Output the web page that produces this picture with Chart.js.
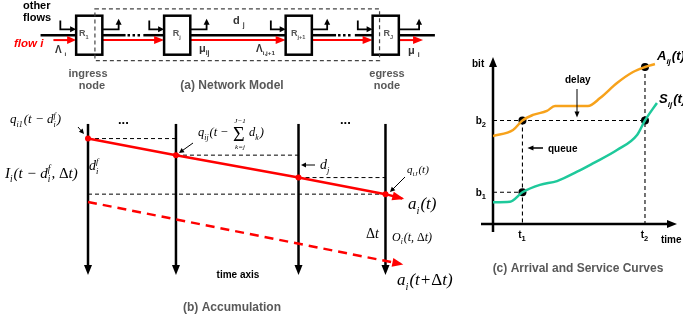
<!DOCTYPE html>
<html><head><meta charset="utf-8">
<script src="https://cdn.jsdelivr.net/npm/chart.js@4/dist/chart.umd.min.js"></script>
<style>
html,body{margin:0;padding:0;background:#fff;}
#wrap{position:relative;width:683px;height:322px;}
canvas{position:absolute;left:0;top:0;}
</style></head><body>
<div id="wrap"><canvas id="diag" width="683" height="322"></canvas><canvas id="curves" width="683" height="322"></canvas></div>
<script>
// ---------------- DATA ----------------
// (a) Network model: routers traversed by flow i
const routerNames = ['1', 'j', 'j+1', 'J'];
// (b) Accumulation: time axes and the a_i(t) trajectory levels at each axis (diagram units)
const timeAxes = [85, 174, 298, 386];
const arrivalLevels = [138, 155, 178, 195];
const arrivalTip = [403, 199.5];
const laterArrival = [[85, 203], [401, 266.5]];
// (c) Arrival and service curves (time, bit)
const arrivalTimes = [0, 1.09, 1.6, 2.17, 2.93, 3.37, 5.16, 5.82, 6.74, 7.61, 8.26, 8.8];
const arrivalBits  = [5.27, 5.63, 6.2, 6.53, 6.77, 7.07, 7.07, 7.54, 8.44, 9.1, 9.4, 9.58];
const serviceTimes = [0, 0.92, 1.6, 2.55, 3.48, 4.57, 5.43, 6.74, 7.83, 8.26, 8.91];
const serviceBits  = [1.3, 1.33, 1.9, 2.34, 2.57, 3.13, 3.63, 4.43, 5.33, 6.2, 7.25];
const t1 = 1.6, t2 = 8.26, b1 = 1.9, b2 = 6.2, arrivalAtT2 = 9.4;

// ---------------- helpers ----------------
const SANS = '"Liberation Sans", Arial, sans-serif';
const SERIF = '"Liberation Serif", "Times New Roman", serif';
function rich(ctx, x, y, segs, o = {}) {
  const size = o.size || 13, fam = o.family || SERIF, it = o.italic !== false, bold = o.bold ? 'bold ' : '';
  const f = (s, ital) => `${ital ? 'italic ' : ''}${bold}${s}px ${fam}`;
  const ss = size * (o.subScale || 0.62);
  const parts = segs.map(s => typeof s === 'string' ? { t: s } : s);
  let w = 0; const ws = [];
  for (const p of parts) {
    let pw;
    if (p.t !== undefined) { ctx.font = f(size, p.up ? false : it); pw = ctx.measureText(p.t).width; }
    else { ctx.font = f(ss, it); pw = Math.max(p.sub ? ctx.measureText(p.sub).width : 0, p.sup ? ctx.measureText(p.sup).width : 0) + 1; }
    ws.push(pw); w += pw;
  }
  let cx = o.align === 'center' ? x - w / 2 : o.align === 'right' ? x - w : x;
  ctx.save(); ctx.fillStyle = o.color || '#000'; ctx.textBaseline = 'alphabetic'; ctx.textAlign = 'left';
  parts.forEach((p, i) => {
    if (p.t !== undefined) { ctx.font = f(size, p.up ? false : it); ctx.fillText(p.t, cx, y); }
    else {
      ctx.font = f(ss, it);
      if (p.sub) ctx.fillText(p.sub, cx, y + size * 0.28);
      if (p.sup) ctx.fillText(p.sup, cx, y - size * 0.42);
    }
    cx += ws[i];
  });
  ctx.restore();
  return w;
}
function txt(ctx, s, x, y, font, color, align) {
  ctx.save(); ctx.font = font; ctx.fillStyle = color || '#000'; ctx.textAlign = align || 'left'; ctx.textBaseline = 'alphabetic';
  ctx.fillText(s, x, y); ctx.restore();
}
function head(ctx, x1, y1, x2, y2, len, w, color) {
  const a = Math.atan2(y2 - y1, x2 - x1), c = Math.cos(a), s = Math.sin(a);
  ctx.save(); ctx.fillStyle = color; ctx.beginPath();
  ctx.moveTo(x2, y2);
  ctx.lineTo(x2 - len * c + w / 2 * s, y2 - len * s - w / 2 * c);
  ctx.lineTo(x2 - len * c - w / 2 * s, y2 - len * s + w / 2 * c);
  ctx.closePath(); ctx.fill(); ctx.restore();
}
function poly(ctx, pts, lw, color, dash) {
  ctx.save(); ctx.lineWidth = lw; ctx.strokeStyle = color; ctx.setLineDash(dash || []);
  ctx.beginPath(); ctx.moveTo(pts[0][0], pts[0][1]);
  for (let i = 1; i < pts.length; i++) ctx.lineTo(pts[i][0], pts[i][1]);
  ctx.stroke(); ctx.restore();
}
function arrow(ctx, pts, lw, color, len, w) {
  const n = pts.length, [x1, y1] = pts[n - 2], [x2, y2] = pts[n - 1];
  const d = Math.hypot(x2 - x1, y2 - y1), k = (d - len * 0.8) / d;
  const p = pts.slice(0, n - 1).concat([[x1 + (x2 - x1) * k, y1 + (y2 - y1) * k]]);
  poly(ctx, p, lw, color);
  head(ctx, x1, y1, x2, y2, len, w, color);
}

// ---------------- Chart 1: panels (a) and (b) ----------------
const boxL = [73, 162, 285, 373];
const labelShift = [-5, 0, 0, 3];
const diagPlugin = {
  id: 'diag',
  beforeDatasetsDraw(chart) {
    const ctx = chart.ctx, sx = chart.scales.x, sy = chart.scales.y;
    const P = (x, y) => [sx.getPixelForValue(x), sy.getPixelForValue(y)];
    const BK = '#000', RED = '#ff0000';
    // ----- panel (a) -----
    poly(ctx, [P(37, 32), P(73, 32)], 2.5, BK);
    arrow(ctx, [P(50, 37), P(73, 37)], 2, RED, 9, 8);
    const gaps = [[99, 162, 123, 139], [188, 285, null], [312, 373, 336, 353], [400, 436, null]];
    gaps.forEach(g => {
      if (g[2] != null) {
        poly(ctx, [P(g[0], 32), P(g[2], 32)], 2.5, BK);
        poly(ctx, [P(g[2] + 2, 32), P(g[3], 32)], 2.5, BK, [2.5, 2.5]);
        poly(ctx, [P(g[3] + 2, 32), P(g[1], 32)], 2.5, BK);
      } else poly(ctx, [P(g[0], 32), P(g[1], 32)], 2.5, BK);
    });
    [[99, 162], [188, 285], [312, 373], [400, 424]].forEach(s => arrow(ctx, [P(s[0], 37), P(s[1], 37)], 2, RED, 10, 8));
    boxL.forEach((l, i) => {
      const inX = [57, 147, 270, 358][i], outX = [116, 205, 327, 420][i];
      arrow(ctx, [P(inX, 17), P(inX, 26), P(l, 26)], 1.8, BK, 6, 6);
      arrow(ctx, [P(l + 27, 26), P(outX, 26), P(outX, 15)], 1.8, BK, 6, 6);
    });
    boxL.forEach((l, i) => {
      const [x0, y0] = P(l, 12), [x1, y1] = P(l + 26.5, 52);
      ctx.save(); ctx.fillStyle = '#fff'; ctx.fillRect(x0, y0, x1 - x0, y1 - y0);
      ctx.lineWidth = 2.5; ctx.strokeStyle = BK; ctx.strokeRect(x0, y0, x1 - x0, y1 - y0); ctx.restore();
      rich(ctx, (x0 + x1) / 2 + labelShift[i], 36, ['R', { sub: routerNames[i] }], { size: 9, family: SANS, italic: false, bold: true, color: '#555', align: 'center' });
    });
    {
      const [x0, y0] = P(92, 5), [x1, y1] = P(380, 58);
      ctx.save(); ctx.setLineDash([4, 3]); ctx.lineWidth = 1.2; ctx.strokeStyle = '#444';
      ctx.strokeRect(x0, y0, x1 - x0, y1 - y0); ctx.restore();
    }
    // ----- panel (b) -----
    const dsh = [4, 3];
    poly(ctx, [P(timeAxes[0], arrivalLevels[0]), P(timeAxes[1], arrivalLevels[0])], 1, BK, dsh);
    poly(ctx, [P(timeAxes[1], arrivalLevels[1]), P(timeAxes[2], arrivalLevels[1])], 1, BK, dsh);
    poly(ctx, [P(timeAxes[2], arrivalLevels[2]), P(timeAxes[3], arrivalLevels[2])], 1, BK, dsh);
    poly(ctx, [P(timeAxes[0], arrivalLevels[3]), P(timeAxes[3], arrivalLevels[3])], 1, BK, dsh);
    timeAxes.forEach(x => arrow(ctx, [P(x, 123), P(x, 278)], 2.5, BK, 10, 8));
  },
  afterDatasetsDraw(chart) {
    const ctx = chart.ctx, sx = chart.scales.x, sy = chart.scales.y;
    const P = (x, y) => [sx.getPixelForValue(x), sy.getPixelForValue(y)];
    const RED = '#ff0000', GR = '#595959';
    head(ctx, ...P(timeAxes[3], arrivalLevels[3]), ...P(arrivalTip[0] + 2, arrivalTip[1] + 0.5), 12, 9, RED);
    head(ctx, ...P(...laterArrival[0]), ...P(laterArrival[1][0] + 3, laterArrival[1][1] + 0.6), 11, 9, RED);

    // ---- panel (a) text ----
    txt(ctx, 'other', 23, 9, `bold 11px ${SANS}`, '#000');
    txt(ctx, 'flows', 23, 21, `bold 11px ${SANS}`, '#000');
    txt(ctx, 'flow i', 14, 47, `italic bold 11.5px ${SANS}`, RED);
    rich(ctx, 55, 53, ['Λ ', { sub: 'i' }], { size: 10, family: SANS, italic: false, bold: true, color: '#333' });
    rich(ctx, 199, 52, ['μ', { sub: 'ij' }], { size: 11, family: SANS, italic: false, bold: true, color: '#333' });
    rich(ctx, 233, 24, ['d ', { sub: 'j' }], { size: 11, family: SANS, italic: false, bold: true, color: '#333' });
    rich(ctx, 256, 52, ['Λ', { sub: 'i,j+1' }], { size: 10, family: SANS, italic: false, bold: true, color: '#333' });
    rich(ctx, 408, 54, ['μ ', { sub: 'i' }], { size: 11, family: SANS, italic: false, bold: true, color: '#333' });
    txt(ctx, 'ingress', 88, 77, `bold 11px ${SANS}`, GR, 'center');
    txt(ctx, 'node', 92, 89, `bold 11px ${SANS}`, GR, 'center');
    txt(ctx, 'egress', 387, 77, `bold 11px ${SANS}`, GR, 'center');
    txt(ctx, 'node', 387, 89, `bold 11px ${SANS}`, GR, 'center');
    txt(ctx, '(a) Network Model', 232, 89, `bold 12px ${SANS}`, GR, 'center');

    // ---- panel (b) text ----
    rich(ctx, 10, 123, ['q', { sub: 'i1' }, '(t − d', { sub: 'i', sup: 'f' }, ')'], { size: 13 });
    arrow(ctx, [[78, 127], [84, 134]], 1, '#000', 5, 5);
    txt(ctx, '...', 118, 124, `bold 13px ${SANS}`, '#000');
    txt(ctx, '...', 340, 124, `bold 13px ${SANS}`, '#000');
    rich(ctx, 89, 170, ['d', { sub: 'i', sup: 'f' }], { size: 14 });
    rich(ctx, 5, 178, ['I', { sub: 'i' }, '(t − d', { sub: 'i', sup: 'f' }, ', ', { t: 'Δ', up: true }, 't)'], { size: 15 });
    rich(ctx, 198, 136, ['q', { sub: 'ij' }, '(t −'], { size: 12.5 });
    txt(ctx, 'Σ', 233, 141, `20px ${SERIF}`, '#000');
    txt(ctx, 'J−1', 240, 123, `italic 7px ${SERIF}`, '#000', 'center');
    txt(ctx, 'k=j', 240, 149, `italic 7px ${SERIF}`, '#000', 'center');
    rich(ctx, 249, 136, ['d', { sub: 'k' }, ')'], { size: 12.5 });
    arrow(ctx, [[193, 143], [179, 153]], 1, '#000', 5, 5);
    arrow(ctx, [[315, 165], [301, 165]], 1, '#000', 5, 5);
    rich(ctx, 320, 169, ['d', { sub: 'j' }], { size: 14 });
    rich(ctx, 407, 173, ['q', { sub: 'iJ' }, '(t)'], { size: 11 });
    arrow(ctx, [[405, 177], [390, 192]], 1, '#000', 5, 5);
    rich(ctx, 408, 209, ['a', { sub: 'i' }, '(t)'], { size: 17 });
    rich(ctx, 366, 238, [{ t: 'Δ', up: true }, 't'], { size: 14 });
    rich(ctx, 392, 241, ['O', { sub: 'i' }, '(t, ', { t: 'Δ', up: true }, 't)'], { size: 12 });
    txt(ctx, 'time axis', 238, 278, `bold 10px ${SANS}`, '#000', 'center');
    rich(ctx, 397, 285, ['a', { sub: 'i' }, '(t+', { t: 'Δ', up: true }, 't)'], { size: 17 });
    txt(ctx, '(b) Accumulation', 232, 311, `bold 12px ${SANS}`, GR, 'center');
  }
};

new Chart(document.getElementById('diag'), {
  type: 'scatter',
  data: {
    datasets: [
      {
        data: timeAxes.map((x, i) => ({ x, y: arrivalLevels[i] })).concat([{ x: arrivalTip[0], y: arrivalTip[1] }]),
        showLine: true, borderColor: '#ff0000', borderWidth: 2.5,
        pointRadius: [3, 3, 3, 3, 0], pointBackgroundColor: '#ff0000', pointBorderWidth: 0
      },
      {
        data: laterArrival.map(p => ({ x: p[0], y: p[1] })),
        showLine: true, borderColor: '#ff0000', borderWidth: 2.5, borderDash: [9, 6], pointRadius: 0
      }
    ]
  },
  options: {
    responsive: false, animation: false, events: [],
    layout: { padding: 0 },
    plugins: { legend: { display: false }, tooltip: { enabled: false } },
    scales: {
      x: { type: 'linear', min: 0, max: 683, display: false },
      y: { type: 'linear', min: 0, max: 322, reverse: true, display: false }
    }
  },
  plugins: [diagPlugin]
});

// ---------------- Chart 2: panel (c) ----------------
const curvePlugin = {
  id: 'curves',
  beforeDatasetsDraw(chart) {
    const { ctx, chartArea: a, scales: { x, y } } = chart;
    const X = v => x.getPixelForValue(v), Y = v => y.getPixelForValue(v);
    const d = [4, 3];
    poly(ctx, [[X(0), Y(b2)], [X(t2), Y(b2)]], 1.1, '#000', d);
    poly(ctx, [[X(t1), Y(b2)], [X(t1), Y(0)]], 1.1, '#000', d);
    poly(ctx, [[X(0), Y(b1)], [X(t1), Y(b1)]], 1.1, '#000', d);
    poly(ctx, [[X(t2), Y(arrivalAtT2)], [X(t2), Y(0)]], 1.1, '#000', d);
    arrow(ctx, [[X(0), Y(0) + 8], [X(0), a.top]], 2.5, '#000', 10, 8);
    arrow(ctx, [[X(0) - 12, Y(0)], [a.right, Y(0)]], 2.5, '#000', 10, 8);
  },
  afterDatasetsDraw(chart) {
    const { ctx, chartArea: a, scales: { x, y } } = chart;
    const X = v => x.getPixelForValue(v), Y = v => y.getPixelForValue(v);
    const B10 = `bold 10px ${SANS}`;
    txt(ctx, 'bit', X(0) - 21, a.top + 10, B10, '#000');
    rich(ctx, X(0) - 6, Y(b2) + 4, ['b', { sub: '2' }], { size: 10, family: SANS, italic: false, bold: true, align: 'right', subScale: 0.75 });
    rich(ctx, X(0) - 6, Y(b1) + 4, ['b', { sub: '1' }], { size: 10, family: SANS, italic: false, bold: true, align: 'right', subScale: 0.75 });
    rich(ctx, X(t1), Y(0) + 14, ['t', { sub: '1' }], { size: 10, family: SANS, italic: false, bold: true, align: 'center', subScale: 0.75 });
    rich(ctx, X(t2), Y(0) + 14, ['t', { sub: '2' }], { size: 10, family: SANS, italic: false, bold: true, align: 'center', subScale: 0.75 });
    txt(ctx, 'time', 661, Y(0) + 19, B10, '#000');
    txt(ctx, 'delay', 565, 83, B10, '#000');
    arrow(ctx, [[577, 89], [577, Y(b2) - 3]], 1, '#000', 6, 5);
    txt(ctx, 'queue', 548, 152, B10, '#000');
    arrow(ctx, [[543, 148], [X(t1) + 5, 148]], 1.5, '#000', 6, 5);
    rich(ctx, 657, 60, ['A', { sub: 'ij' }, '(t)'], { size: 13, family: SANS, bold: true });
    rich(ctx, 659, 103, ['S', { sub: 'ij' }, '(t)'], { size: 13, family: SANS, bold: true });
    txt(ctx, '(c) Arrival and Service Curves', 578, 272, `bold 12px ${SANS}`, '#595959', 'center');
  }
};

new Chart(document.getElementById('curves'), {
  type: 'line',
  data: {
    datasets: [
      {
        label: 'A_ij(t)', data: arrivalTimes.map((t, i) => ({ x: t, y: arrivalBits[i] })),
        borderColor: '#f7a21b', borderWidth: 2.5, pointRadius: 0, cubicInterpolationMode: 'monotone', fill: false
      },
      {
        label: 'S_ij(t)', data: serviceTimes.map((t, i) => ({ x: t, y: serviceBits[i] })),
        borderColor: '#1ec99b', borderWidth: 2.5, pointRadius: 0, cubicInterpolationMode: 'monotone', fill: false
      },
      {
        label: 'marks', type: 'scatter',
        data: [{ x: t1, y: b2 }, { x: t2, y: b2 }, { x: t2, y: arrivalAtT2 }, { x: t1, y: b1 }],
        showLine: false, pointRadius: 4, pointBackgroundColor: '#000', pointBorderWidth: 0
      }
    ]
  },
  options: {
    responsive: false, animation: false, events: [],
    layout: { padding: { left: 493, top: 57, right: 6, bottom: 98 } },
    plugins: { legend: { display: false }, tooltip: { enabled: false } },
    scales: {
      x: { type: 'linear', min: 0, max: 10, display: false },
      y: { type: 'linear', min: 0, max: 10, display: false }
    }
  },
  plugins: [curvePlugin]
});
</script>
</body></html>
